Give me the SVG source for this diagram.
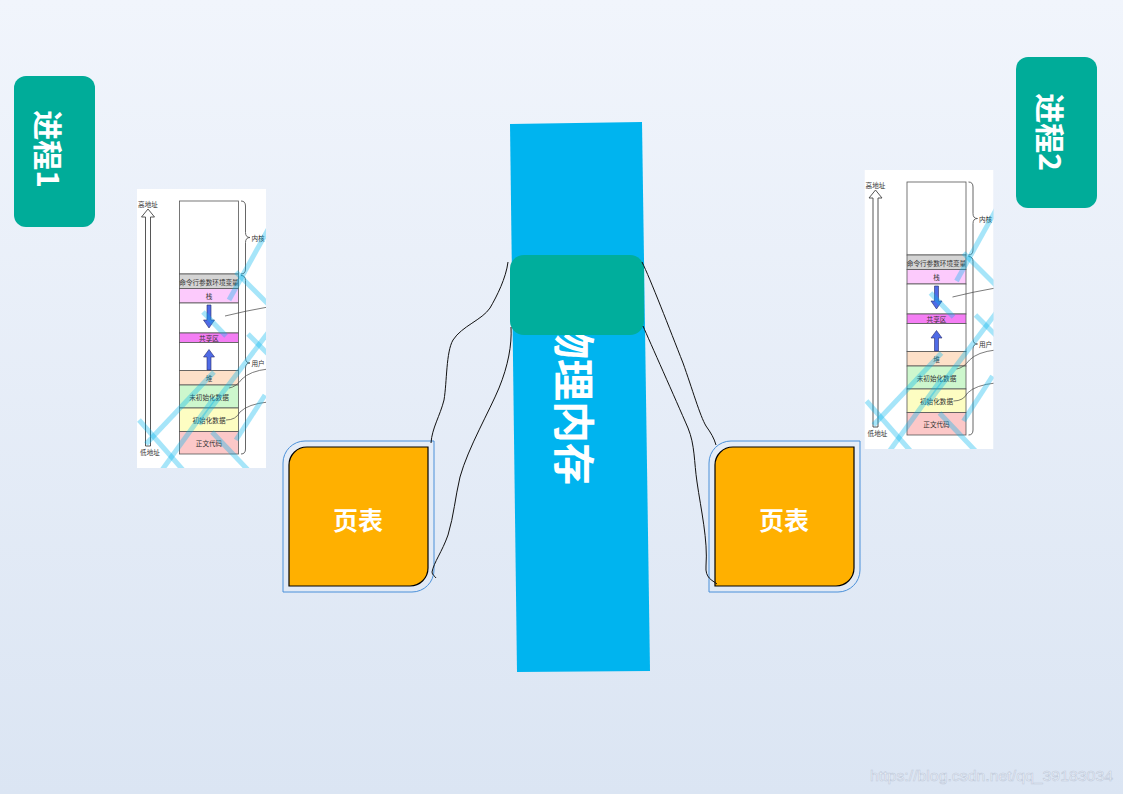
<svg xmlns="http://www.w3.org/2000/svg" xmlns:xlink="http://www.w3.org/1999/xlink" width="1123" height="794" viewBox="0 0 1123 794">
<style>
.cjk{font-family:"Noto Sans CJK SC","Liberation Sans",sans-serif;}
.big{font-weight:bold;fill:#ffffff;}
.small{font-size:6.6px;fill:#333;text-anchor:middle;dominant-baseline:central;}
.row{stroke:#555;stroke-width:0.8;}
.wm{stroke:#00b4ef;stroke-opacity:0.35;stroke-width:5;stroke-linecap:butt;fill:none;}
.conn{fill:none;stroke:#111;stroke-width:1;}
.outer{fill:none;stroke:#4a90d9;stroke-width:1;}
.inner{fill:#ffb000;stroke:#000;stroke-width:1.2;}
.proc{fill:#00ac99;}
</style>
<defs>
<linearGradient id="bg" x1="0" y1="0" x2="0" y2="1">
<stop offset="0" stop-color="#f1f5fc"/>
<stop offset="1" stop-color="#dbe5f3"/>
</linearGradient>
<clipPath id="imgclip"><rect x="137" y="189" width="129" height="279"/></clipPath>
<g id="memmap">
<g clip-path="url(#imgclip)">
<rect x="137" y="189" width="129" height="279" fill="#ffffff"/>
<path d="M148,209 L141.5,217 L145.5,217 L145.5,446 L150.5,446 L150.5,217 L154.5,217 Z" fill="#fff" stroke="#444" stroke-width="0.9"/>
<text class="cjk small" x="148" y="204">高地址</text>
<text class="cjk small" x="150" y="452">低地址</text>
<rect class="row" x="179.5" y="201" width="59" height="73" fill="#ffffff"/>
<rect class="row" x="179.5" y="274" width="59" height="14.5" fill="#d4d4d4"/>
<rect class="row" x="179.5" y="288.5" width="59" height="14.5" fill="#fccafc"/>
<rect class="row" x="179.5" y="303" width="59" height="30" fill="#ffffff"/>
<rect class="row" x="179.5" y="333" width="59" height="9.5" fill="#f47ef4"/>
<rect class="row" x="179.5" y="342.5" width="59" height="28" fill="#ffffff"/>
<rect class="row" x="179.5" y="370.5" width="59" height="14.5" fill="#fde0c8"/>
<rect class="row" x="179.5" y="385" width="59" height="23" fill="#cdf7cd"/>
<rect class="row" x="179.5" y="408" width="59" height="23.5" fill="#fdfdc2"/>
<rect class="row" x="179.5" y="431.5" width="59" height="22.5" fill="#fcc8c8"/>
<text class="cjk small" x="209" y="281.5">命令行参数环境变量</text>
<text class="cjk small" x="209" y="296">栈</text>
<text class="cjk small" x="209" y="338">共享区</text>
<text class="cjk small" x="209" y="378">堆</text>
<text class="cjk small" x="209" y="396.5">未初始化数据</text>
<text class="cjk small" x="209" y="420">初始化数据</text>
<text class="cjk small" x="209" y="443">正文代码</text>
<path d="M207,305 L211,305 L211,320 L214.5,320 L209,328 L203.5,320 L207,320 Z" fill="#4f6be6" stroke="#2a2a6a" stroke-width="0.6"/>
<path d="M207,370 L211,370 L211,357 L214.5,357 L209,349.5 L203.5,357 L207,357 Z" fill="#4f6be6" stroke="#2a2a6a" stroke-width="0.6"/>
<path d="M241,201 Q245.5,201 245.5,206 L245.5,232.5 Q245.5,237.5 250,237.5 Q245.5,237.5 245.5,242.5 L245.5,269 Q245.5,274 241,274" fill="none" stroke="#555" stroke-width="0.9"/>
<path d="M241,275.5 Q245.5,275.5 245.5,280.5 L245.5,358 Q245.5,363 250,363 Q245.5,363 245.5,368 L245.5,449 Q245.5,454 241,454" fill="none" stroke="#555" stroke-width="0.9"/>
<text class="cjk small" x="251.5" y="237.5" style="text-anchor:start">内核</text>
<text class="cjk small" x="251.5" y="363" style="text-anchor:start">用户</text>
<path d="M225,316 Q245,311 268,307" fill="none" stroke="#444" stroke-width="0.7"/>
<path d="M229,388 Q236,387 242,379 Q250,371 268,369" fill="none" stroke="#444" stroke-width="0.7"/>
<path d="M226,420 Q236,420 240,412 Q248,404 268,402" fill="none" stroke="#444" stroke-width="0.7"/>
<path class="wm" d="M270,226 L229,300"/>
<path class="wm" d="M236,272 L270,306"/>
<path class="wm" d="M270,330 L199,424"/>
<path class="wm" d="M203,312 L226,336"/>
<path class="wm" d="M248,334 L270,356"/>
<path class="wm" d="M214,372 L146,444"/>
<path class="wm" d="M139,420 L183,470"/>
<path class="wm" d="M162,470 L214,398"/>
<path class="wm" d="M212,432 L248,470"/>
<path class="wm" d="M265,395 L236,440"/>
</g>
</g>
</defs>

<rect x="0" y="0" width="1123" height="794" fill="url(#bg)"/>

<g id="process1">
<rect class="proc" x="14" y="76" width="81" height="151" rx="12"/>
<text class="cjk big" x="50" y="149" font-size="30" text-anchor="middle" dominant-baseline="central" transform="rotate(90 50 149)">进程1</text>
</g>

<g id="process2">
<rect class="proc" x="1016" y="57" width="81" height="151" rx="12"/>
<text class="cjk big" x="1052" y="132" font-size="30" text-anchor="middle" dominant-baseline="central" transform="rotate(90 1052 132)">进程2</text>
</g>

<g id="memlayout1">
<use xlink:href="#memmap" href="#memmap"/>
</g>
<g id="memlayout2">
<use xlink:href="#memmap" href="#memmap" transform="translate(727.5,-19)"/>
</g>

<g id="physmem">
<polygon points="510,124 642,122 650,671 517,672" fill="#00b4ef"/>
<text class="cjk big" x="576" y="401" font-size="42" text-anchor="middle" dominant-baseline="central" transform="rotate(90 576 401)">物理内存</text>
</g>

<g id="frame">
<rect x="510" y="255" width="134" height="80" rx="14" fill="#00ae9c"/>
</g>

<g id="pagetable1">
<path class="outer" d="M283,463 A22,22 0 0 1 305,441 L434,441 L434,570 A22,22 0 0 1 412,592 L283,592 Z"/>
<path class="inner" d="M289,465 A18,18 0 0 1 307,447 L428,447 L428,568 A18,18 0 0 1 410,586 L289,586 Z"/>
<text class="cjk big" x="358" y="519" font-size="25" text-anchor="middle" dominant-baseline="central">页表</text>
</g>

<g id="pagetable2">
<path class="outer" d="M709,463 A22,22 0 0 1 731,441 L860,441 L860,570 A22,22 0 0 1 838,592 L709,592 Z"/>
<path class="inner" d="M715,465 A18,18 0 0 1 733,447 L854,447 L854,568 A18,18 0 0 1 836,586 L715,586 Z"/>
<text class="cjk big" x="784" y="519" font-size="25" text-anchor="middle" dominant-baseline="central">页表</text>
</g>

<g id="connectors">
<path class="conn" d="M508,262 C506,278 497,296 490,308 C482,320 462,326 453,340 C446,352 447,382 444,400 C440,416 432,428 431,443"/>
<path class="conn" d="M511,327 C512,345 508,366 499,388 C490,410 468,448 460,477 C455,498 454,515 448,535 C442,552 434,562 432,572 C432,575 435,576 436,578"/>
<path class="conn" d="M642,262 C650,278 670,330 683,363 C692,388 700,416 706,426 C711,433 714,438 716,445"/>
<path class="conn" d="M643,326 C650,342 675,398 688,428 C695,445 694,462 697,482 C701,510 708,540 706,566 C705,578 712,580 717,584"/>
</g>

<text x="870" y="781" font-family="Liberation Sans, Arial, sans-serif" font-size="15.5" textLength="243" lengthAdjust="spacingAndGlyphs" fill="#f3f6fb" stroke="#bfcadb" stroke-width="0.6">https://blog.csdn.net/qq_39183034</text>
</svg>
